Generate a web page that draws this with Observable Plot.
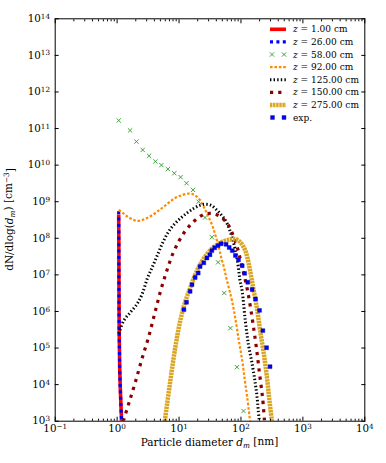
<!DOCTYPE html>
<html><head><meta charset="utf-8">
<script src="https://cdn.jsdelivr.net/npm/d3@7"></script>
<script src="https://cdn.jsdelivr.net/npm/@observablehq/plot@0.6"></script>
<style>
html,body{margin:0;padding:0;background:#fff;}
#chart{position:relative;width:386px;height:463px;overflow:hidden;}
</style></head><body><div id="chart"></div>
<script>
// ---- data ----
const z1X  = [1.06, 1.065, 1.07, 1.075, 1.08, 1.09, 1.10, 1.12, 1.15, 1.18];
const z1Y  = [4.5e8, 1e8, 1e7, 1e6, 3e5, 1e5, 3e4, 1e4, 3e3, 1e3];
const z26X = [1.06, 1.065, 1.07, 1.075, 1.08, 1.09, 1.10, 1.12, 1.15, 1.18];
const z26Y = [5.5e8, 1e8, 1e7, 1e6, 3e5, 1e5, 3e4, 1e4, 3e3, 1e3];
const z58X = [1.06, 1.62, 2.05, 2.59, 3.28, 4.15, 5.19, 6.61, 8.39, 10.6, 13.2, 16.8, 20.7, 26.3, 33.9, 42.7, 53.7, 67.6, 86.1, 110];
const z58Y = [1.66e11, 8.9e10, 4.4e10, 2.6e10, 1.8e10, 1.26e10, 1.0e10, 7.8e9, 6.0e9, 4.7e9, 3.2e9, 2.1e9, 1.0e9, 3.7e8, 1.07e8, 2.2e7, 3.2e6, 3.5e5, 3.0e4, 1.9e3];
const z92X = [1.064, 1.28, 1.545, 1.86, 2.11, 2.54, 3.06, 3.92, 5.01, 6.46, 8.24, 10.7, 14.1, 17.4, 20.9, 25.1, 29.2, 34.4, 38.9, 44.0, 47.9, 53.0, 58.5, 65.5, 72.4, 81.3, 92.5, 104.7, 115.6, 125.9, 140.3];
const z92Y = [6.0e8, 4.7e8, 3.7e8, 3.16e8, 3.0e8, 3.16e8, 3.6e8, 4.6e8, 6.2e8, 8.7e8, 1.2e9, 1.48e9, 1.66e9, 1.55e9, 1.2e9, 7.2e8, 4.2e8, 2.24e8, 1.17e8, 5.6e7, 3.0e7, 1.62e7, 7.8e6, 3.7e6, 1.8e6, 6.3e5, 1.58e5, 4.6e4, 1.29e4, 4.6e3, 1e3];
const z125X = [1.064, 1.28, 1.64, 2.11, 2.54, 3.06, 3.69, 4.45, 5.36, 6.61, 8.24, 10.6, 13.6, 17.4, 21.4, 26.3, 33.1, 41.4, 50.1, 60.3, 76.7, 89.1, 95.5, 104.7, 117.5, 131.8, 151.4, 169.8, 182.0, 195.0, 199.5];
const z125Y = [2.5e5, 5.6e5, 9.5e5, 1.62e6, 3.0e6, 7.8e6, 1.62e7, 3.4e7, 7.1e7, 1.41e8, 2.34e8, 3.55e8, 5.0e8, 6.6e8, 7.9e8, 8.5e8, 7.9e8, 5.75e8, 4.0e8, 2.45e8, 7.1e7, 2.0e7, 7.9e6, 3.55e6, 5.6e5, 1.26e5, 3.7e4, 1.12e4, 4.6e3, 1.26e3, 1e3];
const z150X = [1.259, 1.585, 1.995, 2.512, 3.162, 3.981, 5.012, 6.31, 7.943, 10, 12.59, 15.85, 19.95, 25.12, 31.62, 39.81, 50.12, 63.1, 75.9, 89.1, 100, 112.2, 125.9, 141.3, 158.5, 177.8, 199.5, 223.9, 239.9];
const z150Y = [1e3, 3.55e3, 1.26e4, 5.0e4, 1.78e5, 7.9e5, 3.55e6, 1.26e7, 3.8e7, 8.5e7, 1.58e8, 2.5e8, 3.55e8, 4.5e8, 4.8e8, 4.5e8, 3.55e8, 2.24e8, 1.12e8, 5.0e7, 2.24e7, 1e7, 4.2e6, 1.41e6, 4.0e5, 1e5, 2e4, 4.2e3, 1e3];
const z275X = [5.89, 7.24, 8.71, 10.47, 12.59, 15.14, 18.2, 21.9, 28.2, 36.3, 49.0, 67.6, 81.3, 97.7, 117.5, 131.8, 144.5, 158.5, 182.0, 204.2, 234.4, 263.0, 288.4, 316.2];
const z275Y = [1e3, 1.29e4, 1.05e5, 5.6e5, 1.86e6, 4.4e6, 1e7, 1.91e7, 3.7e7, 5.75e7, 7.9e7, 9.3e7, 9.5e7, 7.8e7, 4.6e7, 2.24e7, 1e7, 4.2e6, 1.17e6, 3.0e5, 6.9e4, 1.58e4, 3.7e3, 1e3];
const expX = [12.0, 13.2, 15.1, 16.2, 18.2, 20.4, 21.9, 25.1, 28.2, 31.6, 33.9, 37.6, 42.7, 47.9, 57.5, 64.6, 72.4, 81.3, 91.2, 104.7, 114.8, 128.8, 151.4, 171.8, 199.5, 225.9, 259.4, 295.1];
const expY = [1.12e6, 1.78e6, 3.55e6, 5.4e6, 8.5e6, 1.12e7, 1.7e7, 2.14e7, 2.9e7, 3.55e7, 4.6e7, 5.5e7, 6.3e7, 7.1e7, 6.8e7, 5.6e7, 4.6e7, 3.4e7, 2.57e7, 1.78e7, 1.1e7, 6.3e6, 4.0e6, 2.2e6, 1.07e6, 3.0e5, 1.02e5, 3.1e4];

const seriesLabels = ["1.00 cm", "26.00 cm", "58.00 cm", "92.00 cm", "125.00 cm", "150.00 cm", "275.00 cm", "exp."];
const xTicks = [0.1, 1, 10, 100, 1000, 10000];
const yTicks = [1e3, 1e4, 1e5, 1e6, 1e7, 1e8, 1e9, 1e10, 1e11, 1e12, 1e13, 1e14];
const xMinorMult = [2, 3, 4, 5, 6, 7, 8, 9];

// ---- build ----
const rows = (xs, ys) => xs.map((x, i) => ({x, y: ys[i]}));
const xMinor = xTicks.slice(0, -1).flatMap(d => xMinorMult.map(k => k * d));

const styles = [
  {stroke: "#ff0000", strokeWidth: 3.6, dash: null},
  {stroke: "#0000ff", strokeWidth: 3.2, dash: "3,3.4"},
  {marker: "times", stroke: "#2e9a2e"},
  {stroke: "#ff8c00", strokeWidth: 2.2, dash: "2.6,1.8"},
  {stroke: "#000000", strokeWidth: 3, dash: "1.4,2.2"},
  {stroke: "#8b0000", strokeWidth: 3.2, dash: "3.2,5"},
  {stroke: "#daa520", strokeWidth: 4.5, dash: "2.4,0.7"},
  {marker: "square", fill: "#0000ff"}
];

const lineMark = (xs, ys, s, curve) => Plot.line(rows(xs, ys), {
  x: "x", y: "y", stroke: s.stroke, strokeWidth: s.strokeWidth,
  strokeDasharray: s.dash, strokeLinecap: "butt", curve: curve || "catmull-rom", clip: true
});

const fmtPow = d => "10^" + Math.round(Math.log10(d));
const blank = () => "";
const FONT = "DejaVu Serif";

const svg = Plot.plot({
  width: 386, height: 463,
  marginLeft: 54.7, marginRight: 21.7, marginTop: 18.3, marginBottom: 42.3,
  style: {fontFamily: FONT, fontSize: "10.3px", color: "black", background: "white", overflow: "visible"},
  x: {type: "log", domain: [0.1, 1e4]},
  y: {type: "log", domain: [1e3, 1e14]},
  marks: [
    lineMark(z1X, z1Y, styles[0], "linear"),
    lineMark(z26X, z26Y, styles[1], "linear"),
    Plot.dot(rows(z58X, z58Y), {x: "x", y: "y", symbol: "times", r: 2.1, stroke: styles[2].stroke, strokeWidth: 0.9, clip: true}),
    lineMark(z92X, z92Y, styles[3]),
    lineMark(z125X, z125Y, styles[4]),
    lineMark(z150X, z150Y, styles[5]),
    lineMark(z275X, z275Y, styles[6]),
    Plot.dot(rows(expX, expY), {x: "x", y: "y", symbol: "square", r: 2.2, fill: styles[7].fill, stroke: "#00008b", strokeWidth: 0.4, clip: true}),
    Plot.frame({stroke: "black", strokeWidth: 1}),
    Plot.axisX(xTicks, {anchor: "bottom", tickSize: -4, tickPadding: 7.3, tickFormat: fmtPow, label: null}),
    Plot.axisX(xMinor, {anchor: "bottom", tickSize: -2, tickFormat: blank, label: null}),
    Plot.axisX(xTicks, {anchor: "top", tickSize: -4, tickFormat: blank, label: null}),
    Plot.axisX(xMinor, {anchor: "top", tickSize: -2, tickFormat: blank, label: null}),
    Plot.axisY(yTicks, {anchor: "left", tickSize: -4, tickPadding: 9.2, tickFormat: fmtPow, label: null}),
    Plot.axisY(yTicks, {anchor: "right", tickSize: -4, tickFormat: blank, label: null})
  ]
});
document.getElementById("chart").appendChild(svg);

// superscript tick labels
const root = d3.select(svg);
root.selectAll("text").each(function () {
  const t = d3.select(this);
  const s = t.text();
  if (!s.startsWith("10^")) return;
  const e = s.slice(3).replace("-", "−");
  t.text(null);
  t.append("tspan").text("10");
  t.append("tspan").attr("dy", "-0.45em").attr("font-size", "70%").text(e);
});

// helper for rich text
function rich(g, parts) {
  parts.forEach(p => {
    const ts = g.append("tspan").text(p.t);
    if (p.it) ts.attr("font-style", "italic");
    if (p.sub) ts.attr("dy", "0.25em").attr("font-size", "70%");
    if (p.sup) ts.attr("dy", "-0.45em").attr("font-size", "70%");
    if (p.reset) ts.attr("dy", p.reset);
  });
}

// axis labels
const xl = root.append("text").attr("x", 209.5).attr("y", 446)
  .attr("text-anchor", "middle").attr("font-family", FONT).attr("font-size", "10.5px").attr("fill", "black");
rich(xl, [{t: "Particle diameter "}, {t: "d", it: true}, {t: "m", it: true, sub: true}, {t: " [nm]", reset: "-0.25em"}]);

const yl = root.append("text").attr("transform", "translate(13,219.5) rotate(-90)")
  .attr("text-anchor", "middle").attr("font-family", FONT).attr("font-size", "10.5px").attr("fill", "black");
rich(yl, [{t: "dN/dlog("}, {t: "d", it: true}, {t: "m", it: true, sub: true}, {t: ") [cm", reset: "-0.25em"}, {t: "−3", sup: true}, {t: "]", reset: "0.45em"}]);

// legend (inside axes, upper right)
const lg = root.append("g").attr("font-family", FONT).attr("font-size", "9px").attr("text-anchor", "start");
const lx0 = 270, lx1 = 286, ltx = 293, ly0 = 29.3, ldy = 12.6;
seriesLabels.forEach((lab, i) => {
  const y = ly0 + i * ldy;
  const s = styles[i];
  if (s.marker === "times") {
    [272, 284].forEach(x => lg.append("path").attr("d", d3.symbol(d3.symbolTimes, Math.PI * 2.1 * 2.1)())
      .attr("transform", `translate(${x},${y})`).attr("fill", "none").attr("stroke", s.stroke).attr("stroke-width", 0.9));
  } else if (s.marker === "square") {
    [272.5, 284].forEach(x => lg.append("path").attr("d", d3.symbol(d3.symbolSquare, Math.PI * 2.2 * 2.2)())
      .attr("transform", `translate(${x},${y})`).attr("fill", s.fill).attr("stroke", "#00008b").attr("stroke-width", 0.4));
  } else {
    lg.append("path").attr("d", `M${lx0},${y}H${lx1}`).attr("stroke", s.stroke)
      .attr("stroke-width", s.strokeWidth).attr("stroke-dasharray", s.dash).attr("fill", "none");
  }
  const t = lg.append("text").attr("x", ltx).attr("y", y).attr("dy", "0.35em").attr("fill", "black").attr("text-anchor", "start");
  if (i < 7) {
    t.append("tspan").attr("font-style", "italic").text("z");
    t.append("tspan").text(" = " + lab);
  } else {
    t.text(lab);
  }
});
</script>
</body></html>
